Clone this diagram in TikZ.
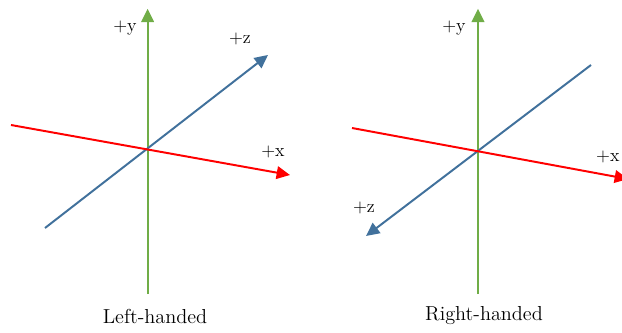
\documentclass[tikz,border=0pt]{standalone}
\usepackage{tikz}
\usetikzlibrary{arrows.meta}
\definecolor{VerdeY}{RGB}{112,173,71}
\definecolor{AzulZ}{RGB}{65,113,156}
\definecolor{RojoX}{RGB}{255,0,0}
\tikzset{
  axis/.style={line width=1.4pt,-{Triangle[length=9.5pt,width=9pt]}},
  lbl/.style={font=\fontsize{13}{15}\selectfont,inner sep=1pt},
  caption/.style={font=\fontsize{14.4}{17}\selectfont,inner sep=1pt}
}
\begin{document}
\begin{tikzpicture}[>=Latex]
  \useasboundingbox (0,0) rectangle (15.55,8.30);
  % left-handed
  \coordinate (O1) at (3.69,4.55);
  \coordinate (y1a) at (3.69,0.95);
  \coordinate (y1b) at (3.69,8.08);
  \coordinate (z1a) at (1.125,2.60);
  \coordinate (z1b) at (6.70,6.925);
  \coordinate (x1a) at (0.275,5.175);
  \coordinate (x1b) at (7.25,3.925);
  \draw[axis,VerdeY] (y1a) -- (y1b);
  \draw[axis,AzulZ] (z1a) -- (z1b);
  \draw[axis,RojoX] (x1a) -- (x1b);
  \node[lbl] (ly1) at (3.125,7.60) {+y};
  \node[lbl] (lz1) at (6.00,7.325) {+z};
  \node[lbl] (lx1) at (6.825,4.50) {+x};
  \node[caption] (cap1) at (3.875,0.40) {Left-handed};
  % right-handed
  \coordinate (O2) at (11.95,4.525);
  \coordinate (y2a) at (11.95,0.95);
  \coordinate (y2b) at (11.95,8.08);
  \coordinate (z2a) at (14.775,6.675);
  \coordinate (z2b) at (9.15,2.40);
  \coordinate (x2a) at (8.80,5.10);
  \coordinate (x2b) at (15.70,3.825);
  \draw[axis,VerdeY] (y2a) -- (y2b);
  \draw[axis,AzulZ] (z2a) -- (z2b);
  \draw[axis,RojoX] (x2a) -- (x2b);
  \node[lbl] (ly2) at (11.35,7.60) {+y};
  \node[lbl] (lz2) at (9.10,3.10) {+z};
  \node[lbl,anchor=east] (lx2) at (15.53,4.38) {+x};
  \node[caption] (cap2) at (12.10,0.40) {Right-handed};
\end{tikzpicture}
\end{document}
